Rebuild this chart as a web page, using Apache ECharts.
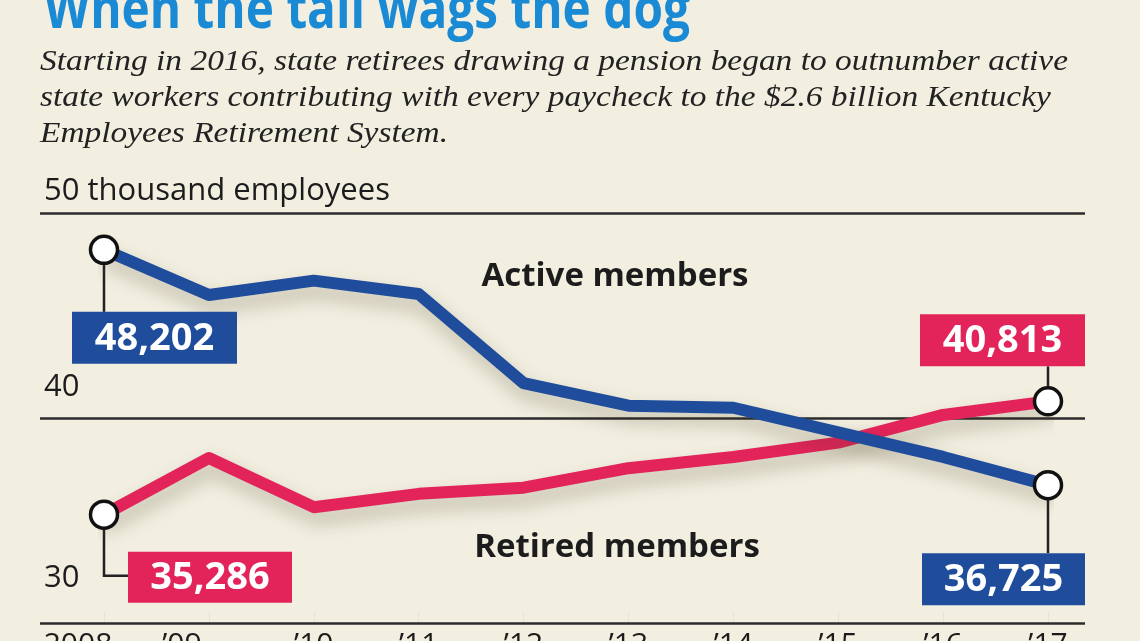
<!DOCTYPE html>
<html><head><meta charset="utf-8">
<script src="https://cdn.jsdelivr.net/npm/echarts@6/dist/echarts.min.js"></script>
<style>html,body{margin:0;padding:0;background:#f2efe1;}#c{width:1140px;height:641px;}</style>
</head><body><div id="c"></div>
<script>
// ---- data ----
const years = ['2008','’09','’10','’11','’12','’13','’14','’15','’16','’17'];
const active = [48202, 46000, 46700, 46050, 41700, 40600, 40500, 39300, 38100, 36725];
const retired = [35286, 38050, 35650, 36300, 36600, 37550, 38100, 38800, 40150, 40813];
const yTicks = [30, 40, 50];
const yTickLabels = ['30', '40', '50 thousand employees'];
const titleText = 'When the tail wags the dog';
const subtitleLines = [
  'Starting in 2016, state retirees drawing a pension began to outnumber active',
  'state workers contributing with every paycheck to the $2.6 billion Kentucky',
  'Employees Retirement System.'
];

// ---- style ----
const BG = '#f2efe1', BLUE = '#1f4d9c', RED = '#e2245b', INK = '#1c1c1c';
const SANS = '"Open Sans", "Noto Sans", sans-serif';
const ctx = document.createElement('canvas').getContext('2d');
function tw(font, t) { ctx.font = font; return ctx.measureText(t).width; }

const chart = echarts.init(document.getElementById('c'));
const last = years.length - 1;
function symSize(v, p) { return (p.dataIndex === 0 || p.dataIndex === last) ? 27 : 0; }
const shadow = { shadowColor: 'rgba(70,60,30,0.30)', shadowBlur: 18, shadowOffsetX: 3, shadowOffsetY: 10 };

const yRich = {
  t: { fontSize: 31, fontFamily: SANS, color: INK, padding: [0, 0, 6, 0] },
  f: { fontSize: 31, fontFamily: SANS, color: INK, padding: [0, 0, 15, 0] },
  h: { fontSize: 31, fontFamily: SANS, color: INK, padding: [0, 0, 29, 0] }
};
const xRich = {
  s0: { fontSize: 30, fontFamily: SANS, color: INK, padding: [0, 52, 0, 0] },
  s1: { fontSize: 30, fontFamily: SANS, color: INK, padding: [0, 54, 0, 0] }
};

const option = {
  backgroundColor: BG,
  animation: false,
  grid: [
    { left: 104, right: 92, top: 213, bottom: 18, containLabel: false, outerBoundsMode: 'none' },
    { left: 40, right: 55, top: 213, bottom: 18, containLabel: false, outerBoundsMode: 'none' }
  ],
  xAxis: [
    {
      type: 'category', gridIndex: 0, data: years, boundaryGap: false,
      axisLine: { show: false },
      axisTick: { show: true, inside: true, length: 12, lineStyle: { color: 'rgba(0,0,0,0.045)', width: 1 } },
      axisLabel: {
        interval: 0, margin: 7, fontSize: 30, fontFamily: SANS, color: INK, verticalAlign: 'top',
        formatter: function (v, i) { return i === 0 ? '{s0|' + v + '}' : (i === 1 ? '{s1|' + v + '}' : v); },
        rich: xRich
      }
    },
    { type: 'value', gridIndex: 1, show: false, min: 0, max: 1 }
  ],
  yAxis: [
    { type: 'value', gridIndex: 0, min: 30, max: 50, show: false },
    {
      type: 'value', gridIndex: 1, min: 30, max: 50, interval: 10,
      axisLine: { show: false }, axisTick: { show: false },
      splitLine: { show: true, lineStyle: { color: '#2b2b2b', width: 2.5 } },
      axisLabel: {
        inside: true, margin: 4, verticalAlign: 'bottom', align: 'left',
        showMinLabel: true, showMaxLabel: true,
        formatter: function (v) {
          const i = yTicks.indexOf(v);
          const key = v === 50 ? 't' : (v === 40 ? 'f' : 'h');
          return '{' + key + '|' + yTickLabels[i] + '}';
        },
        rich: yRich
      }
    }
  ],
  series: [
    {
      name: 'Retired members', type: 'line', xAxisIndex: 0, yAxisIndex: 0,
      data: retired.map(v => v / 1000), symbol: 'circle', symbolSize: symSize, showAllSymbol: true,
      lineStyle: Object.assign({ color: RED, width: 12, cap: 'round', join: 'round' }, shadow),
      itemStyle: { color: '#fff', borderColor: '#111', borderWidth: 3.5 },
      z: 3
    },
    {
      name: 'Active members', type: 'line', xAxisIndex: 0, yAxisIndex: 0,
      data: active.map(v => v / 1000), symbol: 'circle', symbolSize: symSize, showAllSymbol: true,
      lineStyle: Object.assign({ color: BLUE, width: 12, cap: 'round', join: 'round' }, shadow),
      itemStyle: { color: '#fff', borderColor: '#111', borderWidth: 3.5 },
      z: 4
    }
  ]
};
chart.setOption(option);

// ---- annotations computed from the library's scales ----
function px(i, arr) { return chart.convertToPixel({ xAxisIndex: 0, yAxisIndex: 0 }, [i, arr[i] / 1000]); }
function fmt(v) { return v.toLocaleString('en-US'); }
const LEAD = { stroke: '#222', lineWidth: 2.5, fill: null };
function box(x, y, w, h, color, text) {
  return [
    { type: 'rect', z: 10, shape: { x: x, y: y, width: w, height: h }, style: { fill: color } },
    { type: 'text', z: 11, style: { x: x + w / 2, y: y + h / 2 + 1, text: text, align: 'center', verticalAlign: 'middle',
      font: 'bold 38px ' + SANS, fill: '#fff' } }
  ];
}
const a0 = px(0, active), aN = px(last, active), r0 = px(0, retired), rN = px(last, retired);
const els = [];
// Active start
els.push({ type: 'polyline', z: 1, shape: { points: [[a0[0], a0[1] + 12], [a0[0], a0[1] + 62]] }, style: LEAD });
els.push(...box(a0[0] - 32, a0[1] + 62, 165, 52, BLUE, fmt(active[0])));
// Retired start
els.push({ type: 'polyline', z: 1, shape: { points: [[r0[0], r0[1] + 12], [r0[0], r0[1] + 61], [r0[0] + 24, r0[1] + 61]] }, style: LEAD });
els.push(...box(r0[0] + 24, r0[1] + 37, 164, 51, RED, fmt(retired[0])));
// Retired end
els.push({ type: 'polyline', z: 1, shape: { points: [[rN[0], rN[1] - 12], [rN[0], rN[1] - 35]] }, style: LEAD });
els.push(...box(rN[0] - 128, rN[1] - 87, 165, 52, RED, fmt(retired[last])));
// Active end
els.push({ type: 'polyline', z: 1, shape: { points: [[aN[0], aN[1] + 12], [aN[0], aN[1] + 68]] }, style: LEAD });
els.push(...box(aN[0] - 126, aN[1] + 68, 163, 52, BLUE, fmt(active[last])));

// series name labels
els.push({ type: 'text', z: 6, style: { x: 615, y: 277, text: 'Active members', align: 'center', verticalAlign: 'middle', font: 'bold 33px ' + SANS, fill: INK } });
els.push({ type: 'text', z: 6, style: { x: 617, y: 548, text: 'Retired members', align: 'center', verticalAlign: 'middle', font: 'bold 33px ' + SANS, fill: INK } });

// title (cropped at top) & subtitle
const titleFont = 'bold 58px ' + SANS;
const tScale = 646 / tw(titleFont, titleText);
els.push({ type: 'text', x: 44, y: 11, scaleX: tScale, style: { x: 0, y: 0, text: titleText, verticalAlign: 'middle', font: titleFont, fill: '#1a8ad5' } });
const subFont = 'italic 29px "Liberation Serif", serif';
const sScale = 1028 / tw(subFont, subtitleLines[0]);
subtitleLines.forEach(function (t, i) {
  els.push({ type: 'text', x: 40, y: 62 + i * 36, scaleX: sScale, style: { x: 0, y: 0, text: t, verticalAlign: 'middle', font: subFont, fill: '#222' } });
});
chart.setOption({ graphic: { elements: els } });
</script>
</body></html>
